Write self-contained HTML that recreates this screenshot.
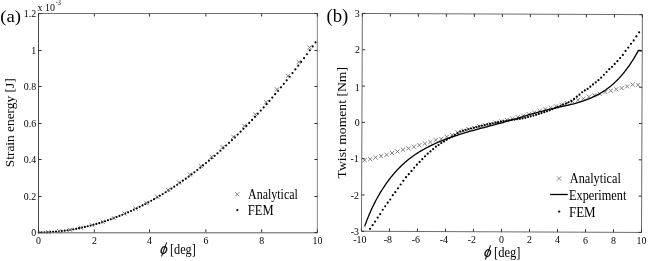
<!DOCTYPE html>
<html><head><meta charset="utf-8"><style>
html,body{margin:0;padding:0;background:#fff;}
svg{display:block;font-family:"Liberation Serif", serif;will-change:transform;}

</style></head><body>
<svg width="648" height="261" viewBox="0 0 648 261">
<rect width="648" height="261" fill="#fff"/>
<g id="pa">
<path d="M38.7 232.4h0M41.58 232.38h0M44.47 232.31h0M47.35 232.2h0M50.24 232.05h0M53.12 231.86h0M56 231.62h0M58.89 231.34h0M61.77 231.02h0M64.66 230.66h0M67.54 230.25h0M70.42 229.81h0M73.31 229.32h0M76.19 228.79h0M79.08 228.22h0M81.96 227.61h0M84.84 226.96h0M87.73 226.26h0M90.61 225.53h0M93.5 224.75h0M96.38 223.94h0M99.26 223.08h0M102.15 222.18h0M105.03 221.24h0M107.92 220.26h0M110.8 219.24h0M113.68 218.19h0M116.57 217.09h0M119.45 215.95h0M122.34 214.77h0M125.22 213.54h0M128.1 212.28h0M130.99 210.98h0M133.87 209.64h0M136.76 208.26h0M139.64 206.84h0M142.52 205.38h0M145.41 203.88h0M148.29 202.34h0M151.18 200.76h0M154.06 199.14h0M156.94 197.48h0M159.83 195.77h0M162.71 194.03h0M165.6 192.25h0M168.48 190.43h0M171.36 188.57h0M174.25 186.67h0M177.13 184.73h0M180.02 182.75h0M182.9 180.72h0M185.78 178.66h0M188.67 176.56h0M191.55 174.41h0M194.44 172.23h0M197.32 170.01h0M200.2 167.74h0M203.09 165.43h0M205.97 163.09h0M208.86 160.7h0M211.74 158.27h0M214.62 155.8h0M217.51 153.29h0M220.39 150.74h0M223.28 148.14h0M226.16 145.51h0M229.04 142.83h0M231.93 140.11h0M234.81 137.35h0M237.7 134.55h0M240.58 131.71h0M243.46 128.82h0M246.35 125.89h0M249.23 122.92h0M252.12 119.9h0M255 116.84h0M257.88 113.74h0M260.77 110.6h0M263.65 107.41h0M266.54 104.18h0M269.42 100.9h0M272.3 97.59h0M275.19 94.22h0M278.07 90.81h0M280.96 87.36h0M283.84 83.87h0M286.72 80.32h0M289.61 76.74h0M292.49 73.1h0M295.38 69.43h0M298.26 65.7h0M301.14 61.93h0M304.03 58.12h0M306.91 54.25h0M309.8 50.34h0M312.68 46.39h0M315.56 42.38h0" stroke="#000" stroke-width="2.2" stroke-linecap="round" fill="none"/>
<path d="M46.2 230.06l4.2 4.2M46.2 234.26l4.2 -4.2M57.09 229.2l4.2 4.2M57.09 233.4l4.2 -4.2M67.98 227.74l4.2 4.2M67.98 231.94l4.2 -4.2M78.87 225.68l4.2 4.2M78.87 229.88l4.2 -4.2M89.76 223.01l4.2 4.2M89.76 227.21l4.2 -4.2M100.65 219.75l4.2 4.2M100.65 223.95l4.2 -4.2M111.54 215.9l4.2 4.2M111.54 220.1l4.2 -4.2M122.43 211.46l4.2 4.2M122.43 215.66l4.2 -4.2M133.32 206.42l4.2 4.2M133.32 210.62l4.2 -4.2M144.21 200.8l4.2 4.2M144.21 205l4.2 -4.2M155.1 194.6l4.2 4.2M155.1 198.8l4.2 -4.2M165.99 187.8l4.2 4.2M165.99 192l4.2 -4.2M176.88 180.42l4.2 4.2M176.88 184.62l4.2 -4.2M187.77 172.46l4.2 4.2M187.77 176.66l4.2 -4.2M198.66 163.9l4.2 4.2M198.66 168.1l4.2 -4.2M209.55 154.76l4.2 4.2M209.55 158.96l4.2 -4.2M220.44 145.02l4.2 4.2M220.44 149.22l4.2 -4.2M231.33 134.69l4.2 4.2M231.33 138.89l4.2 -4.2M242.22 123.76l4.2 4.2M242.22 127.96l4.2 -4.2M253.11 112.23l4.2 4.2M253.11 116.43l4.2 -4.2M264 100.1l4.2 4.2M264 104.3l4.2 -4.2M274.89 87.35l4.2 4.2M274.89 91.55l4.2 -4.2M285.78 73.99l4.2 4.2M285.78 78.19l4.2 -4.2M296.67 60l4.2 4.2M296.67 64.2l4.2 -4.2M307.56 45.39l4.2 4.2M307.56 49.59l4.2 -4.2" stroke="#6e6e6e" stroke-width="0.85" fill="none"/>
<path d="M38.5 13L38.5 233.3" stroke="#474747" stroke-width="1" fill="none"/>
<path d="M38 13.5L317.9 13.5" stroke="#737373" stroke-width="1" fill="none"/>
<path d="M38 232.8L317.9 232.8" stroke="#5a5a5a" stroke-width="1" fill="none"/>
<path d="M317.35 13L317.35 233.3" stroke="#858585" stroke-width="1" fill="none"/>
<path d="M38.6 232.4v-3.0M38.6 13.5v3.0M94.36 232.4v-3.0M94.36 13.5v3.0M149.52 232.4v-3.0M149.52 13.5v3.0M205.88 232.4v-3.0M205.88 13.5v3.0M261.64 232.4v-3.0M261.64 13.5v3.0M317.4 232.4v-3.0M317.4 13.5v3.0M38.6 232.5h3.0M317.4 232.5h-3.0M38.6 196.5h3.0M317.4 196.5h-3.0M38.6 159.5h3.0M317.4 159.5h-3.0M38.6 123.5h3.0M317.4 123.5h-3.0M38.6 86.5h3.0M317.4 86.5h-3.0M38.6 50.5h3.0M317.4 50.5h-3.0M38.6 13.5h3.0M317.4 13.5h-3.0" stroke="#333" stroke-width="1.0" fill="none"/>
</g>
<text transform="translate(36.1,236.1) scale(0.87,1)" font-size="11.4" text-anchor="end">0</text>
<text transform="translate(36.1,199.62) scale(0.87,1)" font-size="11.4" text-anchor="end">0.2</text>
<text transform="translate(36.1,163.13) scale(0.87,1)" font-size="11.4" text-anchor="end">0.4</text>
<text transform="translate(36.1,126.65) scale(0.87,1)" font-size="11.4" text-anchor="end">0.6</text>
<text transform="translate(36.1,90.17) scale(0.87,1)" font-size="11.4" text-anchor="end">0.8</text>
<text transform="translate(36.1,53.68) scale(0.87,1)" font-size="11.4" text-anchor="end">1</text>
<text transform="translate(36.1,17.2) scale(0.87,1)" font-size="11.4" text-anchor="end">1.2</text>
<text transform="translate(38.6,243.8) scale(0.87,1)" font-size="11.4" text-anchor="middle">0</text>
<text transform="translate(94.36,243.8) scale(0.87,1)" font-size="11.4" text-anchor="middle">2</text>
<text transform="translate(149.42,243.8) scale(0.87,1)" font-size="11.4" text-anchor="middle">4</text>
<text transform="translate(205.88,243.8) scale(0.87,1)" font-size="11.4" text-anchor="middle">6</text>
<text transform="translate(261.64,243.8) scale(0.87,1)" font-size="11.4" text-anchor="middle">8</text>
<text transform="translate(317.4,243.8) scale(0.87,1)" font-size="11.4" text-anchor="middle">10</text>
<text transform="translate(37.6,10.5) scale(0.87,1)" font-size="11.4">x 10</text>
<text transform="translate(55.7,5.4) scale(0.75,1)" font-size="7.5">-</text>
<text transform="translate(57.6,4.8) scale(0.9,1)" font-size="7.5">3</text>
<text x="0.27" y="21.5" font-size="17.7" textLength="20.85" lengthAdjust="spacingAndGlyphs">(a)</text>
<text transform="translate(13.6,166.3) rotate(-90)" x="-0.89" y="0" font-size="13.2" textLength="88.78" lengthAdjust="spacingAndGlyphs">Strain energy [J]</text>
<ellipse cx="163.9" cy="250.1" rx="2.55" ry="3.55" transform="rotate(22 163.9 250.1)" fill="none" stroke="#111" stroke-width="1.35"/><path d="M166.7 242.4L161.5 256.5" stroke="#111" stroke-width="1.05" fill="none"/>
<text transform="translate(169.99,253.5) scale(1,1.07)" font-size="13" textLength="25.82" lengthAdjust="spacingAndGlyphs">[deg]</text>
<path d="M235.2 192.2l4.2 4.2M235.2 196.4l4.2 -4.2" stroke="#6e6e6e" stroke-width="0.85" fill="none"/>
<path d="M237.3 210.1h0" stroke="#000" stroke-width="2.2" stroke-linecap="round"/>
<text transform="translate(247.98,198.8) scale(1,1.15)" font-size="12" textLength="49.96" lengthAdjust="spacingAndGlyphs">Analytical</text>
<text transform="translate(247.74,215.3) scale(1,1.15)" font-size="12" textLength="25.83" lengthAdjust="spacingAndGlyphs">FEM</text>
<path d="M362.6 158l4.2 4.2M362.6 162.2l4.2 -4.2M368.07 157.08l4.2 4.2M368.07 161.28l4.2 -4.2M373.54 155.32l4.2 4.2M373.54 159.52l4.2 -4.2M379 154l4.2 4.2M379 158.2l4.2 -4.2M384.47 152.71l4.2 4.2M384.47 156.91l4.2 -4.2M389.94 150.95l4.2 4.2M389.94 155.15l4.2 -4.2M395.41 149.41l4.2 4.2M395.41 153.61l4.2 -4.2M400.87 147.61l4.2 4.2M400.87 151.81l4.2 -4.2M406.34 146.24l4.2 4.2M406.34 150.44l4.2 -4.2M411.81 144.66l4.2 4.2M411.81 148.86l4.2 -4.2M417.28 143.07l4.2 4.2M417.28 147.27l4.2 -4.2M422.74 141.44l4.2 4.2M422.74 145.64l4.2 -4.2M428.21 139.83l4.2 4.2M428.21 144.03l4.2 -4.2M433.68 137.98l4.2 4.2M433.68 142.18l4.2 -4.2M439.15 136.85l4.2 4.2M439.15 141.05l4.2 -4.2M444.61 134.83l4.2 4.2M444.61 139.03l4.2 -4.2M450.08 132.94l4.2 4.2M450.08 137.14l4.2 -4.2M455.55 130.43l4.2 4.2M455.55 134.63l4.2 -4.2M461.02 128.51l4.2 4.2M461.02 132.71l4.2 -4.2M466.48 127.13l4.2 4.2M466.48 131.33l4.2 -4.2M471.95 125.74l4.2 4.2M471.95 129.94l4.2 -4.2M477.42 124.42l4.2 4.2M477.42 128.62l4.2 -4.2M482.89 123.1l4.2 4.2M482.89 127.3l4.2 -4.2M488.35 121.79l4.2 4.2M488.35 125.99l4.2 -4.2M493.82 120.51l4.2 4.2M493.82 124.71l4.2 -4.2M499.29 119.22l4.2 4.2M499.29 123.42l4.2 -4.2M504.76 117.85l4.2 4.2M504.76 122.05l4.2 -4.2M510.23 116.47l4.2 4.2M510.23 120.67l4.2 -4.2M515.69 115.09l4.2 4.2M515.69 119.29l4.2 -4.2M521.16 113.64l4.2 4.2M521.16 117.84l4.2 -4.2M526.63 112.04l4.2 4.2M526.63 116.24l4.2 -4.2M532.1 110.44l4.2 4.2M532.1 114.64l4.2 -4.2M537.56 108.83l4.2 4.2M537.56 113.03l4.2 -4.2M543.03 107.23l4.2 4.2M543.03 111.43l4.2 -4.2M548.5 105.68l4.2 4.2M548.5 109.88l4.2 -4.2M553.97 104.18l4.2 4.2M553.97 108.38l4.2 -4.2M559.43 102.64l4.2 4.2M559.43 106.84l4.2 -4.2M564.9 101.01l4.2 4.2M564.9 105.21l4.2 -4.2M570.37 99.38l4.2 4.2M570.37 103.58l4.2 -4.2M575.84 97.92l4.2 4.2M575.84 102.12l4.2 -4.2M581.3 96.59l4.2 4.2M581.3 100.79l4.2 -4.2M586.77 94.64l4.2 4.2M586.77 98.84l4.2 -4.2M592.24 93.15l4.2 4.2M592.24 97.35l4.2 -4.2M597.71 91.82l4.2 4.2M597.71 96.02l4.2 -4.2M603.17 89.95l4.2 4.2M603.17 94.15l4.2 -4.2M608.64 88.63l4.2 4.2M608.64 92.83l4.2 -4.2M614.11 87.2l4.2 4.2M614.11 91.4l4.2 -4.2M619.58 85.97l4.2 4.2M619.58 90.17l4.2 -4.2M625.04 84.31l4.2 4.2M625.04 88.51l4.2 -4.2M630.51 82.5l4.2 4.2M630.51 86.7l4.2 -4.2M635.98 82.79l4.2 4.2M635.98 86.99l4.2 -4.2" stroke="#6e6e6e" stroke-width="0.85" fill="none"/>
<path d="M364.69 226.39L364.96 225.61L365.24 224.82L365.52 224.04L365.8 223.25L366.09 222.47L366.38 221.68L366.68 220.89L366.98 220.1L367.29 219.32L367.6 218.53L367.91 217.74L368.23 216.95L368.55 216.16L368.87 215.38L369.2 214.59L369.54 213.8L369.87 213.01L370.22 212.23L370.56 211.44L370.91 210.66L371.27 209.87L371.63 209.09L371.99 208.31L372.36 207.52L372.73 206.74L373.11 205.96L373.49 205.19L373.87 204.41L374.26 203.63L374.65 202.86L375.05 202.08L375.45 201.31L375.85 200.54L376.26 199.77L376.68 199.01L377.09 198.24L377.52 197.48L377.94 196.72L378.37 195.96L378.81 195.2L379.24 194.45L379.69 193.7L380.13 192.95L380.58 192.2L381.04 191.45L381.5 190.71L381.96 189.97L382.43 189.24L382.9 188.5L383.38 187.77L383.86 187.04L384.34 186.32L384.83 185.59L385.32 184.87L385.82 184.16L386.32 183.44L386.82 182.74L387.33 182.03L387.85 181.33L388.36 180.63L388.88 179.93L389.41 179.24L389.94 178.55L390.47 177.87L391.01 177.19L391.55 176.52L392.1 175.84L392.65 175.18L393.21 174.51L393.77 173.86L394.33 173.2L394.9 172.55L395.47 171.91L396.04 171.27L396.62 170.63L397.21 170L397.8 169.37L398.39 168.75L398.99 168.14L399.59 167.52L400.19 166.92L400.8 166.32L401.41 165.72L402.03 165.13L402.65 164.55L403.28 163.97L403.91 163.4L404.54 162.83L405.18 162.27L405.82 161.71L406.47 161.16L407.12 160.62L407.77 160.08L408.43 159.55L409.09 159.02L409.76 158.5L410.43 157.98L411.11 157.48L411.79 156.97L412.47 156.47L413.15 155.98L413.84 155.5L414.54 155.02L415.23 154.54L415.94 154.07L416.64 153.6L417.35 153.14L418.06 152.69L418.77 152.24L419.49 151.8L420.21 151.36L420.94 150.92L421.67 150.49L422.4 150.07L423.13 149.65L423.87 149.23L424.61 148.82L425.36 148.41L426.1 148.01L426.85 147.62L427.61 147.22L428.36 146.83L429.12 146.45L429.88 146.07L430.64 145.7L431.41 145.32L432.18 144.96L432.95 144.59L433.73 144.23L434.5 143.88L435.28 143.53L436.06 143.18L436.85 142.83L437.63 142.49L438.42 142.16L439.21 141.82L440.01 141.49L440.8 141.17L441.6 140.84L442.4 140.53L443.2 140.21L444 139.9L444.81 139.59L445.62 139.28L446.42 138.98L447.24 138.67L448.05 138.38L448.86 138.08L449.68 137.79L450.5 137.5L451.31 137.21L452.14 136.93L452.96 136.65L453.78 136.37L454.61 136.09L455.43 135.82L456.26 135.55L457.09 135.28L457.92 135.01L458.75 134.74L459.58 134.48L460.42 134.22L461.25 133.96L462.09 133.71L462.92 133.45L463.76 133.2L464.6 132.95L465.44 132.7L466.28 132.45L467.12 132.2L467.96 131.96L468.8 131.72L469.64 131.47L470.48 131.23L471.33 130.99L472.17 130.76L473.02 130.52L473.86 130.28L474.7 130.05L475.55 129.82L476.4 129.59L477.24 129.35L478.09 129.12L478.93 128.89L479.78 128.66L480.62 128.44L481.47 128.21L482.32 127.98L483.16 127.76L484.01 127.53L484.85 127.3L485.7 127.08L486.54 126.85L487.39 126.63L488.23 126.41L489.08 126.18L489.92 125.96L490.76 125.73L491.6 125.51L492.45 125.28L493.29 125.06L494.13 124.83L494.97 124.61L495.8 124.38L496.64 124.16L497.48 123.93L498.32 123.71L499.15 123.48L499.98 123.25L500.82 123.02L501.65 122.79L502.48 122.56L503.31 122.33L504.14 122.1L504.97 121.87L505.79 121.63L506.62 121.4L507.44 121.16L508.26 120.93L509.08 120.69L509.9 120.45L510.72 120.21L511.54 119.97L512.35 119.73L513.17 119.49L513.99 119.25L514.8 119.01L515.61 118.77L516.43 118.53L517.24 118.28L518.05 118.04L518.86 117.8L519.68 117.56L520.49 117.32L521.3 117.07L522.11 116.83L522.92 116.59L523.73 116.35L524.54 116.11L525.35 115.87L526.16 115.63L526.97 115.39L527.78 115.15L528.59 114.92L529.4 114.68L530.22 114.44L531.03 114.21L531.84 113.98L532.65 113.74L533.47 113.51L534.28 113.28L535.1 113.05L535.91 112.82L536.73 112.6L537.55 112.37L538.37 112.15L539.18 111.93L540.01 111.71L540.83 111.49L541.65 111.27L542.47 111.06L543.3 110.84L544.13 110.63L544.95 110.42L545.78 110.22L546.61 110.01L547.45 109.81L548.28 109.61L549.12 109.41L549.96 109.22L550.79 109.02L551.64 108.83L552.48 108.64L553.32 108.45L554.16 108.27L555.01 108.08L555.86 107.89L556.7 107.71L557.55 107.53L558.4 107.34L559.25 107.16L560.1 106.97L560.95 106.79L561.8 106.6L562.65 106.41L563.5 106.22L564.35 106.03L565.2 105.84L566.05 105.65L566.9 105.45L567.75 105.26L568.59 105.06L569.44 104.85L570.29 104.65L571.13 104.44L571.98 104.22L572.82 104.01L573.66 103.79L574.5 103.56L575.34 103.34L576.18 103.1L577.02 102.86L577.85 102.62L578.68 102.37L579.51 102.12L580.34 101.86L581.17 101.6L581.99 101.33L582.81 101.06L583.63 100.77L584.45 100.49L585.26 100.2L586.07 99.9L586.88 99.59L587.68 99.28L588.49 98.97L589.28 98.64L590.08 98.31L590.87 97.98L591.66 97.64L592.44 97.29L593.22 96.93L594 96.57L594.77 96.2L595.54 95.82L596.31 95.44L597.07 95.05L597.82 94.65L598.57 94.25L599.32 93.84L600.06 93.42L600.8 92.99L601.53 92.55L602.26 92.11L602.98 91.66L603.7 91.2L604.41 90.74L605.12 90.26L605.82 89.78L606.52 89.29L607.21 88.79L607.89 88.28L608.57 87.77L609.24 87.25L609.91 86.72L610.58 86.18L611.23 85.64L611.89 85.09L612.53 84.53L613.17 83.96L613.81 83.39L614.44 82.81L615.06 82.22L615.68 81.63L616.3 81.03L616.91 80.43L617.51 79.82L618.11 79.2L618.71 78.58L619.29 77.95L619.88 77.32L620.46 76.68L621.03 76.04L621.6 75.39L622.16 74.73L622.72 74.07L623.27 73.41L623.82 72.74L624.36 72.06L624.9 71.39L625.43 70.7L625.96 70.02L626.48 69.33L627 68.63L627.51 67.93L628.02 67.23L628.53 66.52L629.03 65.81L629.52 65.1L630.01 64.39L630.49 63.67L630.97 62.94L631.45 62.22L631.92 61.49L632.38 60.76L632.84 60.03L633.3 59.29L633.75 58.55L634.19 57.81L634.64 57.07L635.07 56.33L635.51 55.58L635.93 54.84L636.36 54.09L636.78 53.34L637.19 52.58L637.6 51.83L638.01 51.08L638.41 50.32L642 50.6" stroke="#000" stroke-width="1.3" fill="none" stroke-linejoin="round"/>
<path d="M639.1 32.3h0M636.39 36.46h0M633.68 40.43h0M630.97 43.84h0M628.26 47.61h0M625.55 50.93h0M622.84 54.91h0M620.13 58h0M617.42 61.18h0M614.71 63.9h0M612 66.86h0M609.29 69.21h0M606.58 72.02h0M603.87 74.74h0M601.16 77.63h0M598.45 80.14h0M595.74 82.29h0M593.03 84.44h0M590.32 86.66h0M587.61 88.81h0M584.9 90.42h0M582.19 92.27h0M579.48 94.63h0M576.77 96.67h0M574.06 98.9h0M571.35 100.92h0M568.64 102.23h0M565.93 103.55h0M563.22 104.71h0M560.51 105.8h0M557.8 106.88h0M555.09 108.01h0M552.38 109.15h0M549.67 110.29h0M546.96 111.34h0M544.25 112.21h0M541.54 113.09h0M538.83 113.96h0M536.12 114.84h0M533.41 115.62h0M530.7 116.35h0M527.99 117.07h0M525.28 117.79h0M522.57 118.46h0M519.86 118.83h0M517.15 119.2h0M514.44 119.57h0M511.73 119.94h0M509.02 120.35h0M506.31 120.77h0M503.6 121.18h0M500.89 121.62h0M498.18 122.16h0M495.47 122.71h0M492.76 123.25h0M490.05 123.79h0M487.34 124.44h0M484.63 125.09h0M481.92 125.74h0M479.21 126.39h0M476.5 127.04h0M473.79 127.74h0M471.08 128.5h0M468.37 129.26h0M465.66 130.02h0M462.95 130.77h0M460.24 131.53h0M457.53 133.17h0M454.82 134.89h0M452.11 136.55h0M449.4 138.16h0M446.69 139.78h0M443.98 141.4h0M441.27 143.12h0M438.56 145.12h0M435.85 146.71h0M433.14 149.05h0M430.43 151.38h0M427.72 153.69h0M425.01 156.29h0M422.3 159.15h0M419.59 161.91h0M416.88 164.7h0M414.17 167.73h0M411.46 170.96h0M408.75 174.22h0M406.04 177.15h0M403.33 180.83h0M400.66 184.5h0M397.99 188.31h0M395.32 192.13h0M392.78 195.14h0M390.26 199.5h0M387.74 202.67h0M385.22 206.37h0M382.7 209.74h0M380.18 214.13h0M377.66 217.62h0M375.14 221.59h0M372.62 225.22h0M370.1 228.86h0" stroke="#000" stroke-width="2.2" stroke-linecap="round" fill="none"/>
<path d="M362.36 13.46L642.4 14.64L641.49 232.44L361.45 231.26Z" stroke="#6c6c6c" stroke-width="1.0" fill="none"/>
<path d="M361.45 231.26L361.46 228.26M362.36 13.46L362.34 16.46M389.45 231.38L389.46 228.38M390.36 13.58L390.35 16.58M417.45 231.5L417.47 228.5M418.37 13.7L418.35 16.7M445.46 231.61L445.47 228.61M446.37 13.82L446.36 16.82M473.46 231.73L473.48 228.73M474.38 13.93L474.36 16.93M501.47 231.85L501.48 228.85M502.38 14.05L502.37 17.05M529.47 231.97L529.49 228.97M530.39 14.17L530.37 17.17M557.48 232.08L557.49 229.08M558.39 14.29L558.38 17.29M585.48 232.2L585.5 229.2M586.4 14.4L586.38 17.4M613.49 232.32L613.5 229.32M614.4 14.52L614.39 17.52M641.49 232.44L641.51 229.44M642.4 14.64L642.39 17.64M361.45 231.26L364.45 231.28M641.49 232.44L638.49 232.42M361.6 194.96L364.6 194.98M641.64 196.14L638.64 196.12M361.75 158.66L364.75 158.68M641.8 159.84L638.8 159.82M361.9 122.36L364.9 122.38M641.95 123.54L638.95 123.52M362.05 86.06L365.05 86.08M642.1 87.24L639.1 87.22M362.21 49.76L365.21 49.78M642.25 50.94L639.25 50.92M362.36 13.46L365.36 13.48M642.4 14.64L639.4 14.62" stroke="#333" stroke-width="1.0" fill="none"/>
<text transform="translate(359.7,17.2) scale(0.87,1)" font-size="11.4" text-anchor="end">3</text>
<text transform="translate(360,53.1) scale(0.87,1)" font-size="11.4" text-anchor="end">2</text>
<text transform="translate(359.6,90.8) scale(0.87,1)" font-size="11.4" text-anchor="end">1</text>
<text transform="translate(359.6,126.4) scale(0.87,1)" font-size="11.4" text-anchor="end">0</text>
<text transform="translate(358.8,162.2) scale(0.87,1)" font-size="11.4" text-anchor="end">-1</text>
<text transform="translate(358.9,198.5) scale(0.87,1)" font-size="11.4" text-anchor="end">-2</text>
<text transform="translate(359,234.6) scale(0.87,1)" font-size="11.4" text-anchor="end">-3</text>
<text transform="translate(359.8,242.56) scale(0.87,1)" font-size="11.4" text-anchor="middle">-10</text>
<text transform="translate(387.8,242.68) scale(0.87,1)" font-size="11.4" text-anchor="middle">-8</text>
<text transform="translate(415.81,242.8) scale(0.87,1)" font-size="11.4" text-anchor="middle">-6</text>
<text transform="translate(443.81,242.91) scale(0.87,1)" font-size="11.4" text-anchor="middle">-4</text>
<text transform="translate(471.82,243.03) scale(0.87,1)" font-size="11.4" text-anchor="middle">-2</text>
<text transform="translate(501.42,243.15) scale(0.87,1)" font-size="11.4" text-anchor="middle">0</text>
<text transform="translate(529.43,243.27) scale(0.87,1)" font-size="11.4" text-anchor="middle">2</text>
<text transform="translate(557.43,243.38) scale(0.87,1)" font-size="11.4" text-anchor="middle">4</text>
<text transform="translate(585.44,243.5) scale(0.87,1)" font-size="11.4" text-anchor="middle">6</text>
<text transform="translate(613.44,243.62) scale(0.87,1)" font-size="11.4" text-anchor="middle">8</text>
<text transform="translate(641.45,243.74) scale(0.87,1)" font-size="11.4" text-anchor="middle">10</text>
<text x="326.48" y="21.8" font-size="18.0" textLength="21.85" lengthAdjust="spacingAndGlyphs">(b)</text>
<text transform="translate(346.3,178.2) rotate(-90)" x="-0.24" y="0" font-size="13.0" textLength="111.45" lengthAdjust="spacingAndGlyphs">Twist moment [Nm]</text>
<g transform="translate(323.85,3)"><ellipse cx="163.9" cy="250.1" rx="2.55" ry="3.55" transform="rotate(22 163.9 250.1)" fill="none" stroke="#111" stroke-width="1.35"/><path d="M166.7 242.4L161.5 256.5" stroke="#111" stroke-width="1.05" fill="none"/></g>
<text transform="translate(493.97,256.5) scale(1,1.07)" font-size="13" textLength="26.46" lengthAdjust="spacingAndGlyphs">[deg]</text>
<path d="M557 176.4l4.2 4.2M557 180.6l4.2 -4.2" stroke="#6e6e6e" stroke-width="0.85" fill="none"/>
<path d="M550.1 194.5H567.8" stroke="#000" stroke-width="1.3"/>
<path d="M559.2 211.6h0" stroke="#000" stroke-width="2.2" stroke-linecap="round"/>
<text transform="translate(569.78,182.8) scale(1,1.15)" font-size="12" textLength="51.07" lengthAdjust="spacingAndGlyphs">Analytical</text>
<text transform="translate(568.95,199.6) scale(1,1.15)" font-size="12" textLength="57.43" lengthAdjust="spacingAndGlyphs">Experiment</text>
<text transform="translate(568.93,216.7) scale(1,1.15)" font-size="12" textLength="26.76" lengthAdjust="spacingAndGlyphs">FEM</text>
</svg>
</body></html>
